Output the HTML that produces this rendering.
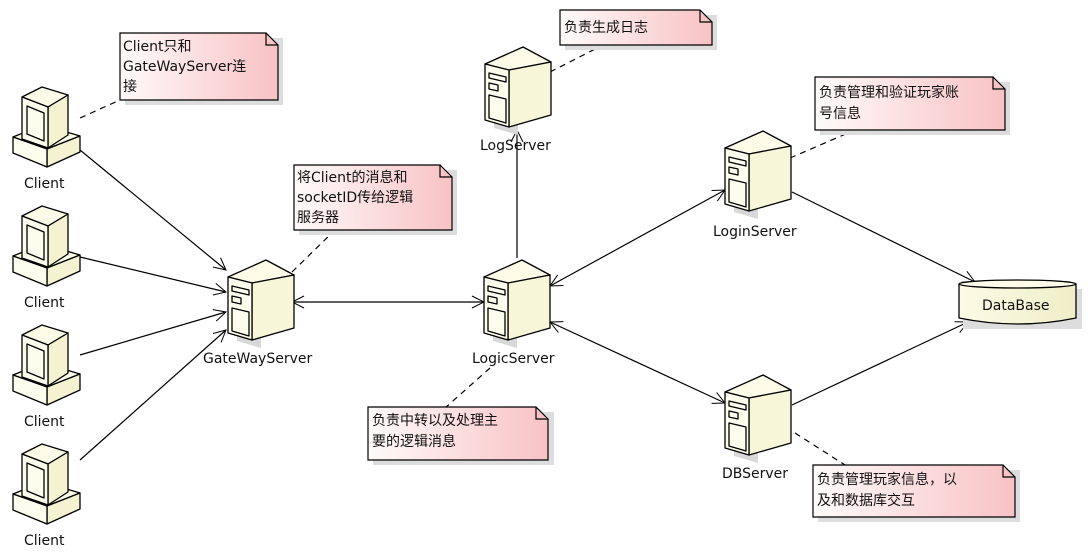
<!DOCTYPE html>
<html><head><meta charset="utf-8"><style>
html,body{margin:0;padding:0;background:#fff;}
svg{display:block;}
text{font-family:"DejaVu Sans","Noto Sans CJK SC",sans-serif;font-size:14px;fill:#111;}
</style></head><body>
<svg width="1088" height="557" viewBox="0 0 1088 557" xmlns="http://www.w3.org/2000/svg">
<defs>
<linearGradient id="ng" x1="0" y1="0" x2="1" y2="0"><stop offset="0" stop-color="#fffafa"/><stop offset="1" stop-color="#f8c2c4"/></linearGradient>
<linearGradient id="sg" x1="0" y1="0" x2="1" y2="0"><stop offset="0" stop-color="#fbfbe6"/><stop offset="1" stop-color="#f0eec8"/></linearGradient>
<marker id="ar" markerWidth="14" markerHeight="14" refX="13" refY="7" orient="auto" markerUnits="userSpaceOnUse"><path d="M1,1 L13,7 L1,13" fill="none" stroke="#000" stroke-width="1"/></marker>
<marker id="al" markerWidth="14" markerHeight="14" refX="1" refY="7" orient="auto" markerUnits="userSpaceOnUse"><path d="M13,1 L1,7 L13,13" fill="none" stroke="#000" stroke-width="1"/></marker>
<g id="srv" stroke="#000" stroke-width="1.3" stroke-linejoin="round">
<polygon points="4,21 28,27 28,84 4,77" fill="#d8d8d8" stroke="none" transform="translate(5,4)"/>
<polygon points="0,17 38,0 66,15 24,23" fill="#fbfbe8"/>
<polygon points="24,23 66,15 66,68 24,80" fill="#f7f6d8"/>
<polygon points="0,17 24,23 24,80 0,73" fill="#fdfdee"/>
<polygon points="4,26 21,30 21,35 4,31" fill="none"/>
<polygon points="4,36 13,38 13,44 4,42" fill="none"/>
<polygon points="4,48 21,52 21,76 4,71" fill="none"/>
</g>
<g id="cli" stroke="#000" stroke-width="1.3" stroke-linejoin="round">
<polygon points="0,52 30,40 67,51 34,64" fill="#fbfbe8"/>
<polygon points="34,64 67,51 67,67 34,82" fill="#f4f2d0"/>
<polygon points="0,52 34,64 34,82 0,68" fill="#fdfdee"/>
<polygon points="9,12 29,2 55,10 35,22" fill="#fbfbe8"/>
<polygon points="35,22 55,10 55,50 35,63" fill="#f4f2d0"/>
<polygon points="9,12 35,22 35,63 9,54" fill="#fdfdee"/>
<polygon points="14,21 31,28 31,56 14,49" fill="#fdfdee"/>
</g>
</defs>

<g stroke="#000" stroke-width="1.2" fill="none">
<line x1="80" y1="150" x2="226" y2="270" marker-end="url(#ar)"/>
<line x1="80" y1="257" x2="226" y2="292" marker-end="url(#ar)"/>
<line x1="80" y1="355" x2="226" y2="312" marker-end="url(#ar)"/>
<line x1="80" y1="460" x2="226" y2="330" marker-end="url(#ar)"/>
<line x1="292" y1="302" x2="484" y2="302" marker-start="url(#al)" marker-end="url(#ar)"/>
<line x1="517" y1="258" x2="517" y2="130" marker-end="url(#ar)"/>
<line x1="550" y1="286" x2="725" y2="190" marker-start="url(#al)" marker-end="url(#ar)"/>
<line x1="550" y1="322" x2="725" y2="403" marker-start="url(#al)" marker-end="url(#ar)"/>
<line x1="792" y1="192" x2="975" y2="282" marker-end="url(#ar)"/>
<line x1="792" y1="405" x2="968" y2="322" marker-end="url(#ar)"/>
</g>
<g stroke="#000" stroke-width="1.2" stroke-dasharray="6,5" fill="none">
<line x1="80" y1="118" x2="120" y2="100"/>
<line x1="292" y1="272" x2="335" y2="230"/>
<line x1="550" y1="72" x2="603" y2="45"/>
<line x1="790" y1="158" x2="855" y2="130"/>
<line x1="490" y1="368" x2="445" y2="408"/>
<line x1="795" y1="433" x2="845" y2="465"/>
</g>

<use href="#cli" x="13" y="85"/><text x="24" y="188">Client</text>
<use href="#cli" x="13" y="204"/><text x="24" y="307">Client</text>
<use href="#cli" x="13" y="323"/><text x="24" y="426">Client</text>
<use href="#cli" x="13" y="442"/><text x="24" y="545">Client</text>

<use href="#srv" x="228" y="260"/><text x="203" y="363">GateWayServer</text>
<use href="#srv" x="484" y="260"/><text x="472" y="363">LogicServer</text>
<use href="#srv" x="485" y="47"/><text x="480" y="150">LogServer</text>
<use href="#srv" x="725" y="131"/><text x="713" y="236">LoginServer</text>
<use href="#srv" x="725" y="375"/><text x="722" y="478">DBServer</text>

<g stroke="#000" stroke-width="1.3">
<rect x="963" y="289" width="119" height="40" fill="#ddd" stroke="none"/>
<path d="M959,284 L959,318 Q1018,330 1076,318 L1076,284" fill="url(#sg)"/>
<ellipse cx="1017.5" cy="284" rx="58.5" ry="4" fill="#fbfbe8"/>
</g>
<text x="982" y="310">DataBase</text>

<g stroke="#000" stroke-width="1.2">
<rect x="125" y="38" width="158" height="67" fill="#ddd" stroke="none"/>
<path d="M120,33 L266,33 L278,45 L278,100 L120,100 Z" fill="url(#ng)"/><path d="M266,33 L266,45 L278,45" fill="none"/>
<rect x="299" y="170" width="158" height="65" fill="#ddd" stroke="none"/>
<path d="M294,165 L440,165 L452,177 L452,230 L294,230 Z" fill="url(#ng)"/><path d="M440,165 L440,177 L452,177" fill="none"/>
<rect x="565" y="15" width="152" height="35" fill="#ddd" stroke="none"/>
<path d="M560,10 L700,10 L712,22 L712,45 L560,45 Z" fill="url(#ng)"/><path d="M700,10 L700,22 L712,22" fill="none"/>
<rect x="820" y="82" width="190" height="53" fill="#ddd" stroke="none"/>
<path d="M815,77 L993,77 L1005,89 L1005,130 L815,130 Z" fill="url(#ng)"/><path d="M993,77 L993,89 L1005,89" fill="none"/>
<rect x="373" y="412" width="181" height="53" fill="#ddd" stroke="none"/>
<path d="M368,407 L536,407 L548,419 L548,460 L368,460 Z" fill="url(#ng)"/><path d="M536,407 L536,419 L548,419" fill="none"/>
<rect x="818" y="470" width="202" height="52" fill="#ddd" stroke="none"/>
<path d="M813,465 L1003,465 L1015,477 L1015,517 L813,517 Z" fill="url(#ng)"/><path d="M1003,465 L1003,477 L1015,477" fill="none"/>
</g>
<text x="123" y="51">Client只和</text>
<text x="123" y="71">GateWayServer连</text>
<text x="123" y="91">接</text>
<text x="297" y="182">将Client的消息和</text>
<text x="297" y="202">socketID传给逻辑</text>
<text x="297" y="222">服务器</text>
<text x="564" y="32">负责生成日志</text>
<text x="819" y="97">负责管理和验证玩家账</text>
<text x="819" y="118">号信息</text>
<text x="372" y="425">负责中转以及处理主</text>
<text x="372" y="446">要的逻辑消息</text>
<text x="817" y="484">负责管理玩家信息，以</text>
<text x="817" y="505">及和数据库交互</text>
</svg>
</body></html>
